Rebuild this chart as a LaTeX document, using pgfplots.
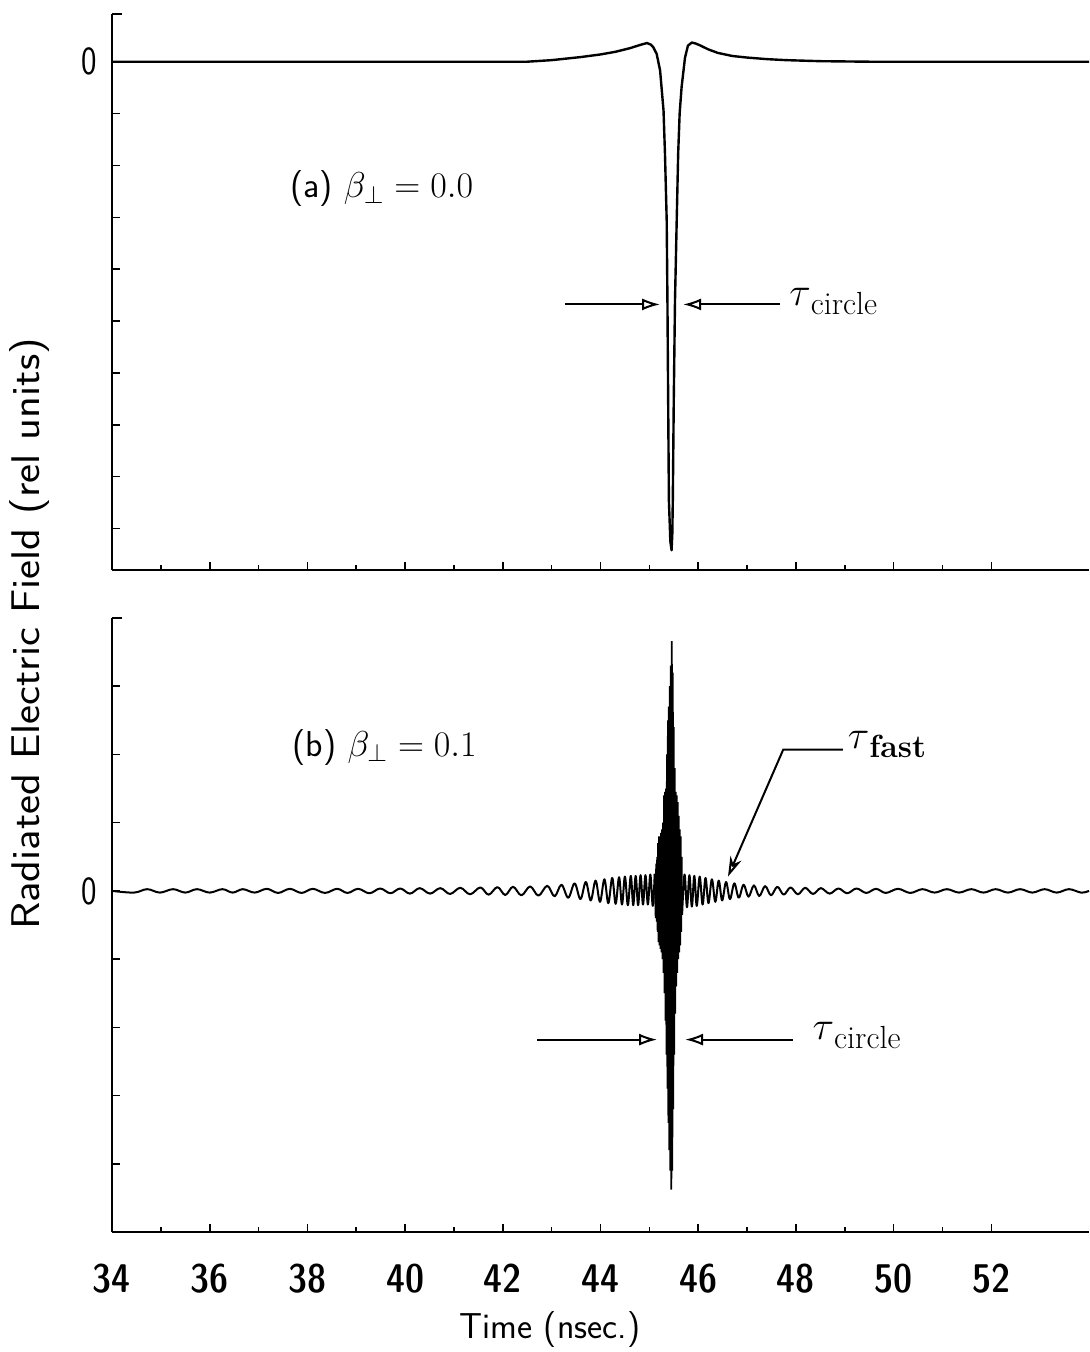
\RequirePackage{fix-cm}
\documentclass[border=0pt]{standalone}
\usepackage{graphicx}
\usepackage{pgfplots}
\pgfplotsset{compat=1.18}
\usetikzlibrary{arrows.meta}

\newcommand\tk[1]{\scalebox{0.82}[1]{#1}}
\newcommand\xtk[1]{{\fontseries{sbc}\selectfont #1}}
\newcommand\lblfont{\fontsize{18}{21}\selectfont\sffamily}
\newcommand\taulbl[1]{$\tau$\raisebox{-4.5pt}{\fontsize{16}{16}\selectfont #1}}

\tikzset{ann/.style={black, line width=1pt}}

\begin{document}
\begin{tikzpicture}
\pgfplotsset{
  panel/.style={
    scale only axis, width=488.5pt,
    xmin=34, xmax=54,
    axis x line*=bottom, axis y line*=left,
    axis line style={-, line width=1pt},
    xtick={34,36,...,52}, minor x tick num=1,
    tick align=inside,
    every tick/.style={black, line width=0.8pt},
    major tick length=4pt, minor tick length=2.5pt,
    tick label style={font=\fontsize{20}{20}\selectfont\sffamily},
    /pgf/number format/assume math mode=true,
    xticklabel style={anchor=base, yshift=-30pt},
    yticklabel style={xshift=-4pt},
    clip=false,
  },
  curve/.style={black, line width=1.2pt, line join=round},
  dense/.style={black, line width=0.9pt},
}

% (a) beta_perp = 0.0
\begin{axis}[panel, at={(0pt,331pt)}, anchor=south west, height=278pt,
  ymin=-9.8, ymax=0.92,
  ytick={-9,-8,...,0}, yticklabels={,,,,,,,,,\tk{0}},
  xticklabels={}]
\addplot[curve] coordinates {
(34.00,0.00) (40.00,0.00) (42.50,0.00) (43.00,0.03) (43.60,0.09)
(44.00,0.14) (44.30,0.19) (44.60,0.26) (44.80,0.32) (44.95,0.36)
(45.03,0.33) (45.08,0.28) (45.15,0.15) (45.22,-0.17) (45.29,-0.94)
(45.32,-1.78) (45.355,-3.06) (45.37,-4.60) (45.40,-8.46) (45.43,-9.25)
(45.455,-9.42) (45.47,-9.10) (45.48,-8.46) (45.50,-6.50) (45.525,-4.60)
(45.56,-3.06) (45.59,-1.77) (45.62,-1.00) (45.66,-0.49) (45.73,0.08)
(45.79,0.31) (45.87,0.37) (45.95,0.35) (46.05,0.31) (46.20,0.24)
(46.40,0.17) (46.70,0.11) (47.00,0.08) (47.40,0.05) (47.80,0.03)
(48.50,0.01) (49.50,0.00) (54.00,0.00)
};
\draw[line width=1pt] (rel axis cs:0,1) -- ++(5pt,0pt);
\node[anchor=west, font=\lblfont] at (axis cs:37.50,-2.45) {(a) $\beta_\perp = 0.0$};
\draw[ann, -{Latex[open, length=9pt, width=6pt]}] (axis cs:43.27,-4.68) -- (axis cs:45.22,-4.68);
\draw[ann, -{Latex[open, length=9pt, width=6pt]}] (axis cs:47.67,-4.68) -- (axis cs:45.69,-4.68);
\node[anchor=west, font=\fontsize{20}{24}\selectfont] at (axis cs:47.72,-4.62) {\taulbl{circle}};
\end{axis}

% (b) beta_perp = 0.1
\begin{axis}[panel, at={(0pt,0pt)}, anchor=south west, height=307pt,
  ymin=-5, ymax=4,
  ytick={-4,-3,...,3}, yticklabels={,,,,\tk{0},,,},
  xticklabels={\xtk{34},\xtk{36},\xtk{38},\xtk{40},\xtk{42},\xtk{44},\xtk{46},\xtk{48},\xtk{50},\xtk{52}}]
% slow ripple before the pulse
\addplot[curve, line width=1pt, smooth, tension=0.6] coordinates {
(34.00,0.00) (34.45,-0.025) (34.72,0.025) (34.98,-0.025) (35.25,0.025)
(35.50,-0.025) (35.74,0.025) (36.00,-0.025) (36.26,0.025) (36.47,-0.025)
(36.68,0.025) (36.92,-0.025) (37.17,0.03) (37.40,-0.03) (37.64,0.03)
(37.88,-0.03) (38.11,0.03) (38.36,-0.03) (38.61,0.03) (38.82,-0.03)
(39.04,0.03) (39.27,-0.035) (39.49,0.035) (39.70,-0.035) (39.90,0.035)
(40.10,-0.04) (40.30,0.04) (40.51,-0.04) (40.72,0.04) (40.92,-0.045)
(41.13,0.045) (41.33,-0.05) (41.54,0.05) (41.71,-0.055) (41.89,0.055)
(42.05,-0.06) (42.21,0.06) (42.38,-0.065) (42.56,0.065) (42.73,-0.07)
(42.91,0.075) (43.06,-0.08) (43.20,0.09) (43.34,-0.10) (43.47,0.11)
(43.59,-0.12) (43.70,0.13) (43.80,-0.14) (43.90,0.15) (43.99,-0.16)
(44.08,0.17) (44.16,-0.18) (44.24,0.19) (44.31,-0.19) (44.38,0.20)
(44.44,-0.20) (44.50,0.21) (44.56,-0.21) (44.62,0.22) (44.67,-0.21)
(44.72,0.22) (44.77,-0.21) (44.82,0.23) (44.87,-0.20) (44.92,0.23)
(44.97,-0.20) (45.02,0.24) (45.07,-0.22) (45.11,0.25)
};
% fast oscillation inside the pulse
\addplot[dense] coordinates {
(45.11,0.25) (45.13,-0.40) (45.14,0.40) (45.15,-0.45) (45.16,0.50)
(45.17,-0.60) (45.18,0.70)
(45.19,-0.75) (45.20,0.80) (45.21,-0.80) (45.22,0.80) (45.23,-0.85)
(45.24,0.85) (45.25,-0.90) (45.26,0.90) (45.27,-1.00) (45.28,1.00)
(45.29,-1.20) (45.30,1.40) (45.31,-1.50) (45.32,1.45) (45.33,-1.90)
(45.34,1.50) (45.35,-2.40) (45.36,2.00) (45.37,-2.90) (45.38,2.50)
(45.39,-3.40) (45.40,2.70) (45.41,-3.80) (45.42,3.00) (45.43,-4.10)
(45.44,3.30) (45.45,-4.38) (45.46,3.66) (45.47,-4.10) (45.48,3.20)
(45.49,-3.20) (45.50,2.40) (45.51,-2.40) (45.52,1.80) (45.53,-1.80)
(45.54,1.45) (45.55,-1.40) (45.56,1.40) (45.57,-1.20) (45.58,1.30)
(45.59,-1.00) (45.60,1.10) (45.61,-0.90) (45.62,0.90) (45.63,-0.80)
(45.64,0.80) (45.65,-0.60) (45.66,0.50) (45.67,-0.35)
};
% ripple after the pulse
\addplot[curve, line width=1pt, smooth, tension=0.6] coordinates {
(45.67,-0.35) (45.72,0.24) (45.77,-0.24) (45.82,0.23) (45.87,-0.23)
(45.92,0.22) (45.97,-0.22) (46.03,0.21) (46.09,-0.20) (46.15,0.19)
(46.21,-0.18) (46.28,0.17) (46.35,-0.16) (46.42,0.15) (46.49,-0.14)
(46.57,0.13) (46.65,-0.12) (46.74,0.11) (46.83,-0.10) (46.93,0.09)
(47.03,-0.085) (47.14,0.08) (47.25,-0.075) (47.37,0.07) (47.49,-0.065)
(47.62,0.06) (47.75,-0.055) (47.89,0.05) (48.04,-0.05) (48.19,0.045)
(48.35,-0.045) (48.51,0.04) (48.69,-0.04) (48.87,0.035) (49.05,-0.035)
(49.24,0.035) (49.44,-0.03) (49.64,0.03) (49.84,-0.03) (50.09,0.03)
(50.34,-0.03) (50.59,0.025) (50.84,-0.025) (51.09,0.025) (51.34,-0.025)
(51.59,0.025) (51.84,-0.025) (52.09,0.025) (52.34,-0.025) (52.59,0.025)
(52.84,-0.025) (53.09,0.025) (53.34,-0.025) (53.59,0.025) (53.84,-0.025)
(54.00,0.00)
};
\draw[line width=1pt] (rel axis cs:0,1) -- ++(5pt,0pt);
\node[anchor=west, font=\lblfont] at (axis cs:37.55,2.10) {(b) $\beta_\perp = 0.1$};
\draw[ann, -{Stealth[open, length=10pt, width=6pt]}] (axis cs:48.96,2.07) -- (axis cs:47.74,2.07) -- (axis cs:46.61,0.21);
\node[anchor=west, font=\fontsize{20}{24}\selectfont] at (axis cs:48.92,2.14) {\taulbl{\bfseries fast}};
\draw[ann, -{Latex[open, length=9pt, width=6pt]}] (axis cs:42.70,-2.18) -- (axis cs:45.16,-2.18);
\draw[ann, -{Latex[open, length=9pt, width=6pt]}] (axis cs:47.94,-2.18) -- (axis cs:45.73,-2.18);
\node[anchor=west, font=\fontsize{20}{24}\selectfont] at (axis cs:48.20,-2.12) {\taulbl{circle}};
\end{axis}

\node[rotate=90, font=\fontsize{20}{24}\selectfont\sffamily] at (-41pt,299pt)
  {\scalebox{1.13}[1]{Radiated Electric Field (rel units)}};
\node[font=\lblfont] at (219pt,-49pt) {Time (nsec.)};

\pgfresetboundingbox
\path (-56pt,-60pt) rectangle (488.5pt,616pt);
\end{tikzpicture}
\end{document}
